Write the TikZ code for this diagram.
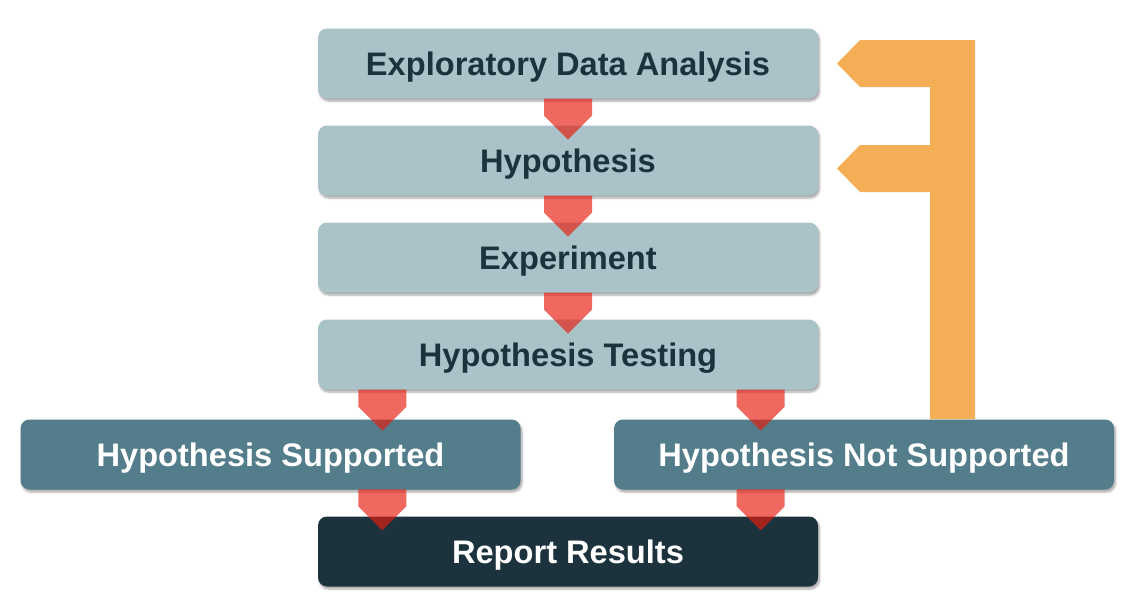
\documentclass[tikz,border=0pt]{standalone}
\usepackage{fontspec}
\setmainfont{Liberation Sans}
\usetikzlibrary{calc,shadows.blur}
\definecolor{boxlight}{RGB}{169,195,200}
\definecolor{boxmid}{RGB}{83,125,138}
\definecolor{boxdark}{RGB}{28,51,61}
\definecolor{inkdark}{RGB}{28,50,61}
\definecolor{loopor}{RGB}{244,175,86}
\definecolor{flowred}{RGB}{232,28,14}
\tikzset{
  stage/.style={rounded corners=9pt, minimum width=500pt, minimum height=70pt,
    inner sep=0pt, text height=23.5pt, text depth=0pt,
    font=\fontsize{32.6}{33}\selectfont\bfseries,
    blur shadow={shadow xshift=1.5pt, shadow yshift=-2.5pt, shadow blur steps=6, shadow opacity=35}},
  lightstage/.style={stage, fill=boxlight, text=inkdark},
  midstage/.style={stage, fill=boxmid, text=white},
  darkstage/.style={stage, fill=boxdark, text=white},
  downarrow/.style={fill=flowred, fill opacity=0.66},
  loopback/.style={fill=loopor}
}
% red chevron pointing down, top edge centred on #1
\newcommand{\flowchev}[1]{%
  \fill[downarrow] ($#1+(-24,0)$) -- ($#1+(24,0)$) -- ($#1+(24,17)$)
    -- ($#1+(0,41)$) -- ($#1+(-24,17)$) -- cycle;}
\begin{document}
\begin{tikzpicture}[x=1pt,y=-1pt]
\useasboundingbox (0,0) rectangle (1140,614);

% return path from the "not supported" branch back to the top stages
\coordinate (lt) at (975,40);
\coordinate (tipa) at (837,63.5);
\coordinate (tipb) at (837,168.5);
\fill[loopback] (lt) -- (975,419) -- (930,419) -- (930,192) -- (860,192)
  -- (tipb) -- (860,145) -- (930,145) -- (930,87) -- (860,87)
  -- (tipa) -- (860,40) -- cycle;

\node[lightstage] (eda)  at (568,63.5)  {Exploratory Data Analysis};
\node[lightstage] (hyp)  at (568,160.5) {Hypothesis};
\node[lightstage] (exp)  at (568,257.5) {Experiment};
\node[lightstage] (test) at (568,354.5) {Hypothesis Testing};
\node[midstage]   (sup)  at (270.5,454.5) {Hypothesis Supported};
\node[midstage]   (nsup) at (864,454.5)   {Hypothesis Not Supported};
\node[darkstage]  (rep)  at (568,551.5)   {Report Results};

% connectors
\flowchev{(eda.south)}
\flowchev{(hyp.south)}
\flowchev{(exp.south)}
\flowchev{($(test.south west)+(64.5,0)$)}
\flowchev{($(test.south east)+(-57.5,0)$)}
\flowchev{($(rep.north west)+(64.5,-27)$)}
\flowchev{($(rep.north east)+(-57.5,-27)$)}
\end{tikzpicture}
\end{document}
